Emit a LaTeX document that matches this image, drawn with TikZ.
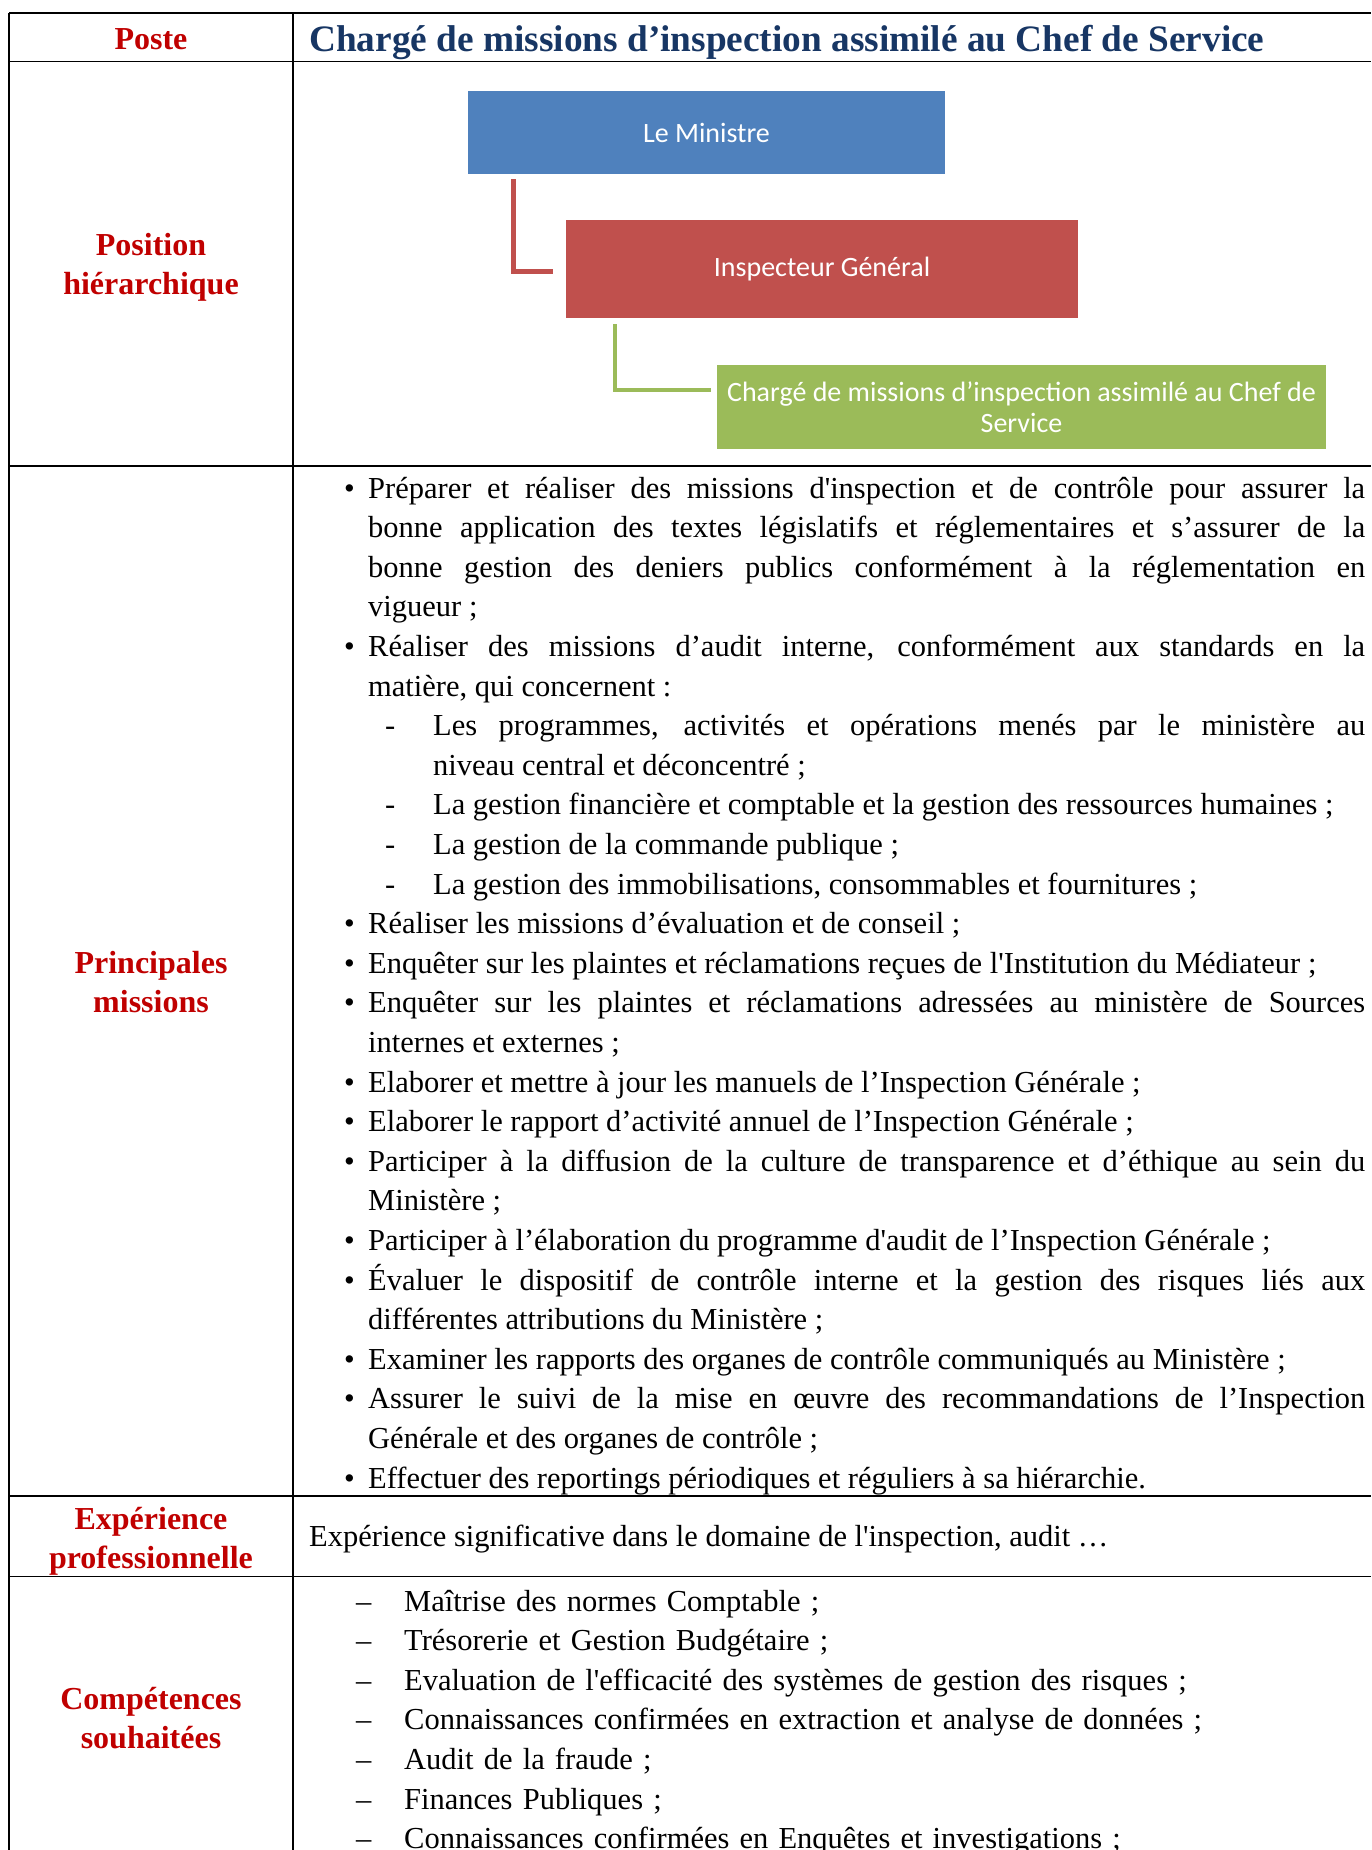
\documentclass[tikz,border=0pt]{standalone}
\usepackage{fontspec}
\setmainfont{Liberation Serif}
\newfontfamily\boxfont{Carlito}
\usetikzlibrary{positioning}

\definecolor{titleblue}{RGB}{23,54,100}
\definecolor{labelred}{RGB}{192,0,0}
\definecolor{boxblue}{RGB}{79,129,189}
\definecolor{boxred}{RGB}{192,80,77}
\definecolor{boxgreen}{RGB}{155,187,89}

\newcommand\puce{\par\noindent\hangindent=24pt\hangafter=1\makebox[24pt][l]{\textbullet}}
\newcommand\tiret{\par\noindent\hangindent=89pt\hangafter=1\hspace*{41pt}\makebox[48pt][l]{-}}
\newcommand\trait{\par\noindent\makebox[48pt][l]{–}}

\begin{document}
\begin{tikzpicture}[x=1pt, y=-1pt,
    rule/.style={line width=1.5pt},
    rubrique/.style={text width=280pt, align=center, anchor=base, text=labelred,
      font=\bfseries\fontsize{32}{39.5}\selectfont},
    corps/.style={anchor=base west, inner sep=0pt, font=\fontsize{30.5}{39.6}\selectfont},
    poste/.style={fill=#1, text=white, inner sep=0pt, align=center,
      font=\boxfont\fontsize{28}{31}\selectfont},
    lien/.style={draw=#1, line width=4.5pt}]
  \useasboundingbox (0,0) rectangle (1371,1850);

  % table rules
  \draw[rule] (9,13) -- (1371,13);
  \draw[rule] (9,61.5) -- (1371,61.5);
  \draw[rule] (9,466) -- (1371,466);
  \draw[rule] (9,1496) -- (1371,1496);
  \draw[rule] (9,1576.5) -- (1371,1576.5);
  \draw[rule] (9,13) -- (9,1850);
  \draw[rule] (293,13) -- (293,1850);

  % left column
  \node[rubrique] (poste) at (151,49) {Poste};
  \node[rubrique] (position) at (151,255) {Position\\hiérarchique};
  \node[rubrique] (principales) at (151,973) {Principales\\missions};
  \node[rubrique] (experience) at (151,1529) {Expérience\\professionnelle};
  \node[rubrique] (competences) at (151,1709) {Compétences\\souhaitées};

  \node[anchor=base west, inner sep=0pt, text=titleblue,
    font=\bfseries\fontsize{37.3}{40}\selectfont] (titre) at (309,51)
    {Chargé de missions d’inspection assimilé au Chef de Service};

  % organigramme
  \node[poste=boxblue, minimum width=477pt, minimum height=83pt] (ministre) at (706.5,132.5) {Le Ministre};
  \node[poste=boxred, minimum width=512pt, minimum height=98pt] (ig) at (822,269) {Inspecteur Général};
  \node[poste=boxgreen, minimum width=609pt, minimum height=84pt] (charge) at (1021.5,407)
    {Chargé de missions d’inspection assimilé au Chef de\\Service};
  \draw[lien=boxred] ([xshift=45.5pt,yshift=-5pt]ministre.south west) |- ([xshift=-13pt,yshift=-2.5pt]ig.west);
  \draw[lien=boxgreen] ([xshift=49pt,yshift=-6pt]ig.south west) |- ([xshift=-6pt,yshift=17pt]charge.west);

  % missions
  \node[corps, text width=1021pt, align=justify] (missions) at (344,458.5) {\tolerance=10000\hyphenpenalty=10000
    \puce Préparer et réaliser des missions d\textquotesingle inspection et de contrôle pour assurer la\linebreak bonne application des textes législatifs et réglementaires et s’assurer de la\linebreak bonne gestion des deniers publics conformément à la réglementation en\linebreak vigueur~;
    \puce Réaliser des missions d’audit interne, conformément aux standards en la\linebreak matière, qui concernent~:
    \tiret Les programmes, activités et opérations menés par le ministère au\linebreak niveau central et déconcentré~;
    \tiret La gestion financière et comptable et la gestion des ressources humaines~;
    \tiret La gestion de la commande publique~;
    \tiret La gestion des immobilisations, consommables et fournitures~;
    \puce Réaliser les missions d’évaluation et de conseil~;
    \puce Enquêter sur les plaintes et réclamations reçues de l\textquotesingle Institution du Médiateur~;
    \puce Enquêter sur les plaintes et réclamations adressées au ministère de Sources\linebreak internes et externes~;
    \puce Elaborer et mettre à jour les manuels de l’Inspection Générale~;
    \puce Elaborer le rapport d’activité annuel de l’Inspection Générale~;
    \puce Participer à la diffusion de la culture de transparence et d’éthique au sein du\linebreak Ministère~;
    \puce Participer à l’élaboration du programme d\textquotesingle audit de l’Inspection Générale~;
    \puce Évaluer le dispositif de contrôle interne et la gestion des risques liés aux\linebreak différentes attributions du Ministère~;
    \puce Examiner les rapports des organes de contrôle communiqués au Ministère~;
    \puce Assurer le suivi de la mise en œuvre des recommandations de l’Inspection\linebreak Générale et des organes de contrôle~;
    \puce Effectuer des reportings périodiques et réguliers à sa hiérarchie.};

  % experience
  \node[corps] (texteexp) at (309,1546) {Expérience significative dans le domaine de l\textquotesingle inspection, audit …};

  % competences
  \node[corps, text width=1000pt] (textecomp) at (356,1571.5) {\tolerance=10000
    \trait Maîtrise des normes Comptable~;
    \trait Trésorerie et Gestion Budgétaire~;
    \trait Evaluation de l\textquotesingle efficacité des systèmes de gestion des risques~;
    \trait Connaissances confirmées en extraction et analyse de données~;
    \trait Audit de la fraude~;
    \trait Finances Publiques~;
    \trait Connaissances confirmées en Enquêtes et investigations~;};
\end{tikzpicture}
\end{document}
